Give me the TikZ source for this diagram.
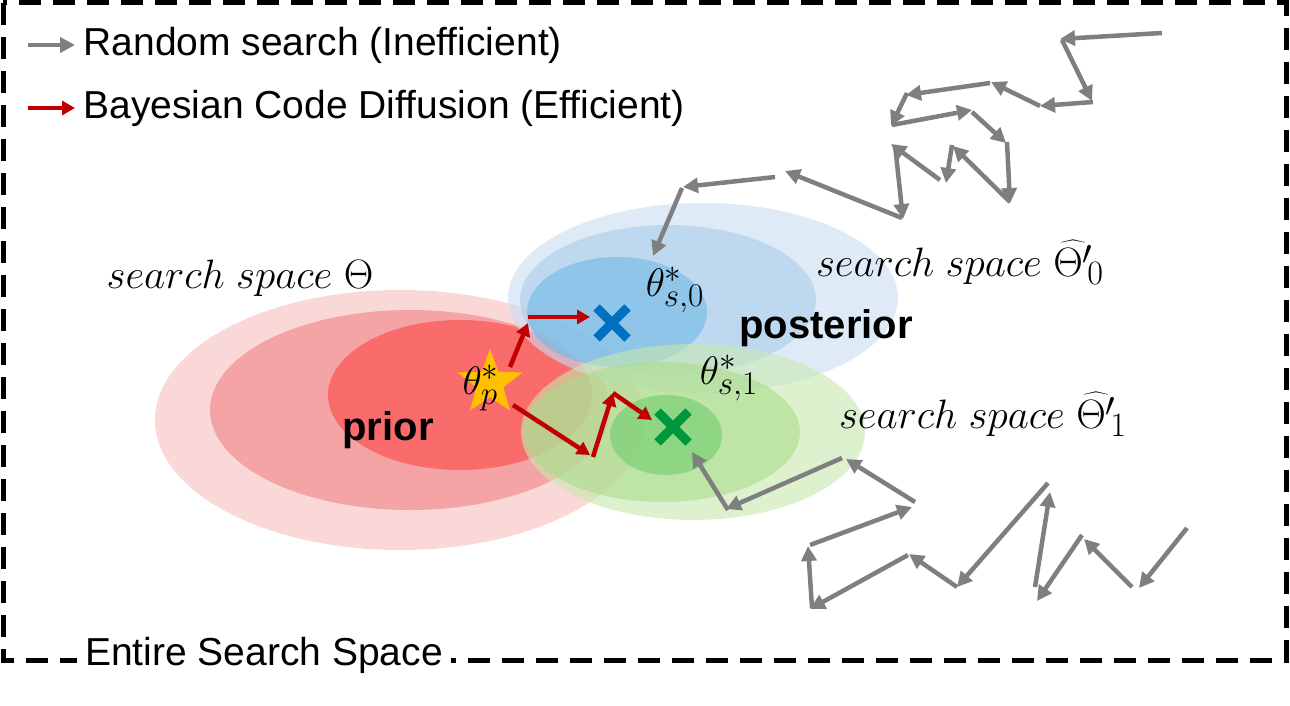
\documentclass[tikz,border=0pt]{standalone}
\usepackage{graphicx}
\usepackage{fontspec}
\setmainfont{Liberation Sans}
\usetikzlibrary{arrows.meta,shapes.geometric,shapes.misc}
\definecolor{ga}{HTML}{7F7F7F}
\definecolor{ra}{HTML}{C00000}
\newcommand{\myBigMath}[1]{\scalebox{1.65}{$#1$}}
\begin{document}
\begin{tikzpicture}[x=1pt,y=-1pt,
 g/.style={ga,line width=4.5pt,-{Triangle[length=15pt,width=15pt]}},
 r/.style={ra,line width=4.5pt,-{Triangle[length=13pt,width=14pt]}},
 lbl/.style={font=\fontsize{39}{44}\selectfont,anchor=west},
 mth/.style={font=\fontsize{24.88}{28}\selectfont},
 bold/.style={font=\fontsize{40}{44}\selectfont\bfseries},
 crs/.style={cross out,draw,line width=9pt,minimum size=22pt,inner sep=0},
 ell/.style={opacity=0.6}]
\useasboundingbox (0,0) rectangle (1290,706);
% ellipses
\fill[ell,color={rgb,255:red,249;green,190;blue,190}] (400,420) ellipse [x radius=245,y radius=130];
\fill[ell,color={rgb,255:red,240;green,130;blue,130}] (410,410) ellipse [x radius=200,y radius=100];
\fill[ell,color={rgb,255:red,255;green,70;blue,70}] (460,395) ellipse [x radius=132,y radius=75];
\fill[ell,color={rgb,255:red,200;green,222;blue,242}] (703,298) ellipse [x radius=195,y radius=95];
\fill[ell,color={rgb,255:red,170;green,205;blue,236}] (668,300) ellipse [x radius=148,y radius=75];
\fill[ell,color={rgb,255:red,110;green,185;blue,230}] (617,312) ellipse [x radius=90,y radius=55];
\fill[ell,color={rgb,255:red,200;green,232;blue,175}] (693,432) ellipse [x radius=172,y radius=88];
\fill[ell,color={rgb,255:red,170;green,220;blue,140}] (662,432) ellipse [x radius=138,y radius=70];
\fill[ell,color={rgb,255:red,110;green,205;blue,110}] (666,435) ellipse [x radius=56,y radius=40];
% border
\draw[line width=5pt,dash pattern=on 22pt off 12pt] (3,3) rectangle (1286,660);
\node[fill=white,inner sep=8pt,font=\fontsize{39}{44}\selectfont] (ent) at (264,655) {Entire Search Space};
% legend
\coordinate (l1a) at (28,45); \coordinate (l1b) at (75,45);
\coordinate (l2a) at (28,108); \coordinate (l2b) at (75,108);
\draw[g] (l1a) -- (l1b);
\draw[r] (l2a) -- (l2b);
\node[lbl] (t1) at (80,45) {Random search (Inefficient)};
\node[lbl] (t2) at (80,108) {Bayesian Code Diffusion (Efficient)};
% star and crosses
\node[star,star points=5,star point ratio=2.4,fill={rgb,255:red,255;green,192;blue,0},minimum size=68pt,inner sep=0] (st) at (490,383) {};
\node[mth] (tp) at (481,388) {\scalebox{1.6}{$\theta_p^*$}};
\node[crs,color={rgb,255:red,0;green,112;blue,192}] (x0) at (612,323) {};
\node[crs,color={rgb,255:red,0;green,150;blue,60}] (x1) at (673,427) {};
\node[mth] (ts0) at (675,290) {\scalebox{1.6}{$\theta_{s,0}^*$}};
\node[mth] (ts1) at (729,378) {\scalebox{1.6}{$\theta_{s,1}^*$}};
\node[bold] (post) at (826,328) {posterior};
\node[bold] (prior) at (388,430) {prior};
\node[mth] (s0) at (240,278) {\myBigMath{search\ space\ \Theta}};
\node[mth] (s1) at (960,262) {\myBigMath{search\ space\ \widehat{\Theta'}_{\!0}}};
\node[mth] (s2) at (983,414) {\myBigMath{search\ space\ \widehat{\Theta'}_{\!1}}};
% red path
\foreach \a/\b in {{510,367}/{528,323},{528,317}/{590,317},{513,405}/{590,455},{593,457}/{613,393},{613,393}/{652,420}}
  \draw[r] (\a) -- (\b);
% gray top
\foreach \a/\b in {{1162,33}/{1060,39},{1062,40}/{1092,101},{1093,102}/{1040,106},{1040,106}/{991,82},{990,83}/{906,95},{907,93}/{891,126},{892,125}/{972,110},{972,112}/{1006,143},{1007,142}/{1010,203},{1010,202}/{953,146},{952,145}/{946,183},{940,180}/{891,144},{895,145}/{903,219},{902,218}/{785,171},{775,177}/{683,187},{682,188}/{653,256}}
  \draw[g] (\a) -- (\b);
% gray bottom
\foreach \a/\b in {{842,458}/{726,509},{728,510}/{692,452},{915,502}/{846,459},{810,545}/{912,507},{812,608}/{808,546},{908,555}/{810,609},{957,587}/{909,554},{1048,483}/{957,587},{1035,587}/{1050,492},{1082,535}/{1037,601},{1132,587}/{1084,539},{1187,528}/{1139,588}}
  \draw[g] (\a) -- (\b);
\end{tikzpicture}
\end{document}
